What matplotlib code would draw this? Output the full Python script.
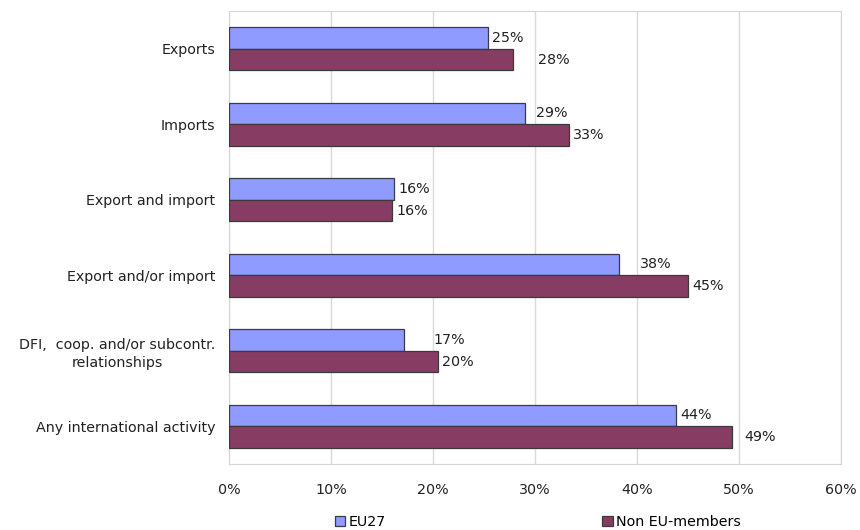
import matplotlib.pyplot as plt
import numpy as np

# share of enterprises by type of international activity (%)
categories = ['Exports', 'Imports', 'Export and import', 'Export and/or import',
              'DFI,  coop. and/or subcontr.\nrelationships', 'Any international activity']
eu27 = [25.4, 29.0, 16.2, 38.2, 17.2, 43.8]
non_eu = [27.8, 33.3, 16.0, 45.0, 20.5, 49.3]
series_names = ['EU27', 'Non EU-members']

# extra push of value labels to the right (points)
eu_shift = [0, 5, 0, 12, 18, 0]
non_shift = [15, 0, 0, 0, 0, 6]

plt.rcParams['font.family'] = 'DejaVu Sans'
fig = plt.figure(figsize=(8.6, 5.3), dpi=100)
ax = fig.add_axes([229/860, 1 - 464/530, 612/860, 453/530])

y = np.arange(len(categories))
h = 0.285
b1 = ax.barh(y - h/2, eu27, height=h, color='#8F9BFF', edgecolor='#3a3a4a', linewidth=0.9,
             label=series_names[0], zorder=3)
b2 = ax.barh(y + h/2, non_eu, height=h, color='#873C63', edgecolor='#3a3a3a', linewidth=0.9,
             label=series_names[1], zorder=3)

for bars, vals, shifts in ((b1, eu27, eu_shift), (b2, non_eu, non_shift)):
    for bar, v, s in zip(bars, vals, shifts):
        ax.annotate(f'{v:.0f}%', (v, bar.get_y() + bar.get_height()/2),
                    xytext=(3 + s, 0), textcoords='offset points',
                    va='center', ha='left', fontsize=10.3, color='#222222')

ax.set_xlim(0, 60)
ax.set_ylim(len(categories) - 0.5, -0.5)
ax.set_xticks(np.arange(0, 61, 10))
ax.set_xticklabels([f'{t}%' for t in range(0, 61, 10)])
ax.set_yticks(y)
ax.set_yticklabels(categories, multialignment='center', linespacing=1.35)
ax.tick_params(axis='both', length=0, labelsize=10.3, colors='#222222')
ax.tick_params(axis='x', pad=14)
ax.tick_params(axis='y', pad=10)
ax.grid(axis='x', color='#DADADA', linewidth=1, zorder=0)
for sp in ax.spines.values():
    sp.set_color('#D5D5D5')

fig.legend(handles=[b1, b2], loc='lower center', bbox_to_anchor=(538/860, -0.022), ncol=2,
           frameon=False, fontsize=10.3, handlelength=0.75, handleheight=0.75,
           handletextpad=0.25, columnspacing=15.1)

fig.savefig('out.png', dpi=100)
